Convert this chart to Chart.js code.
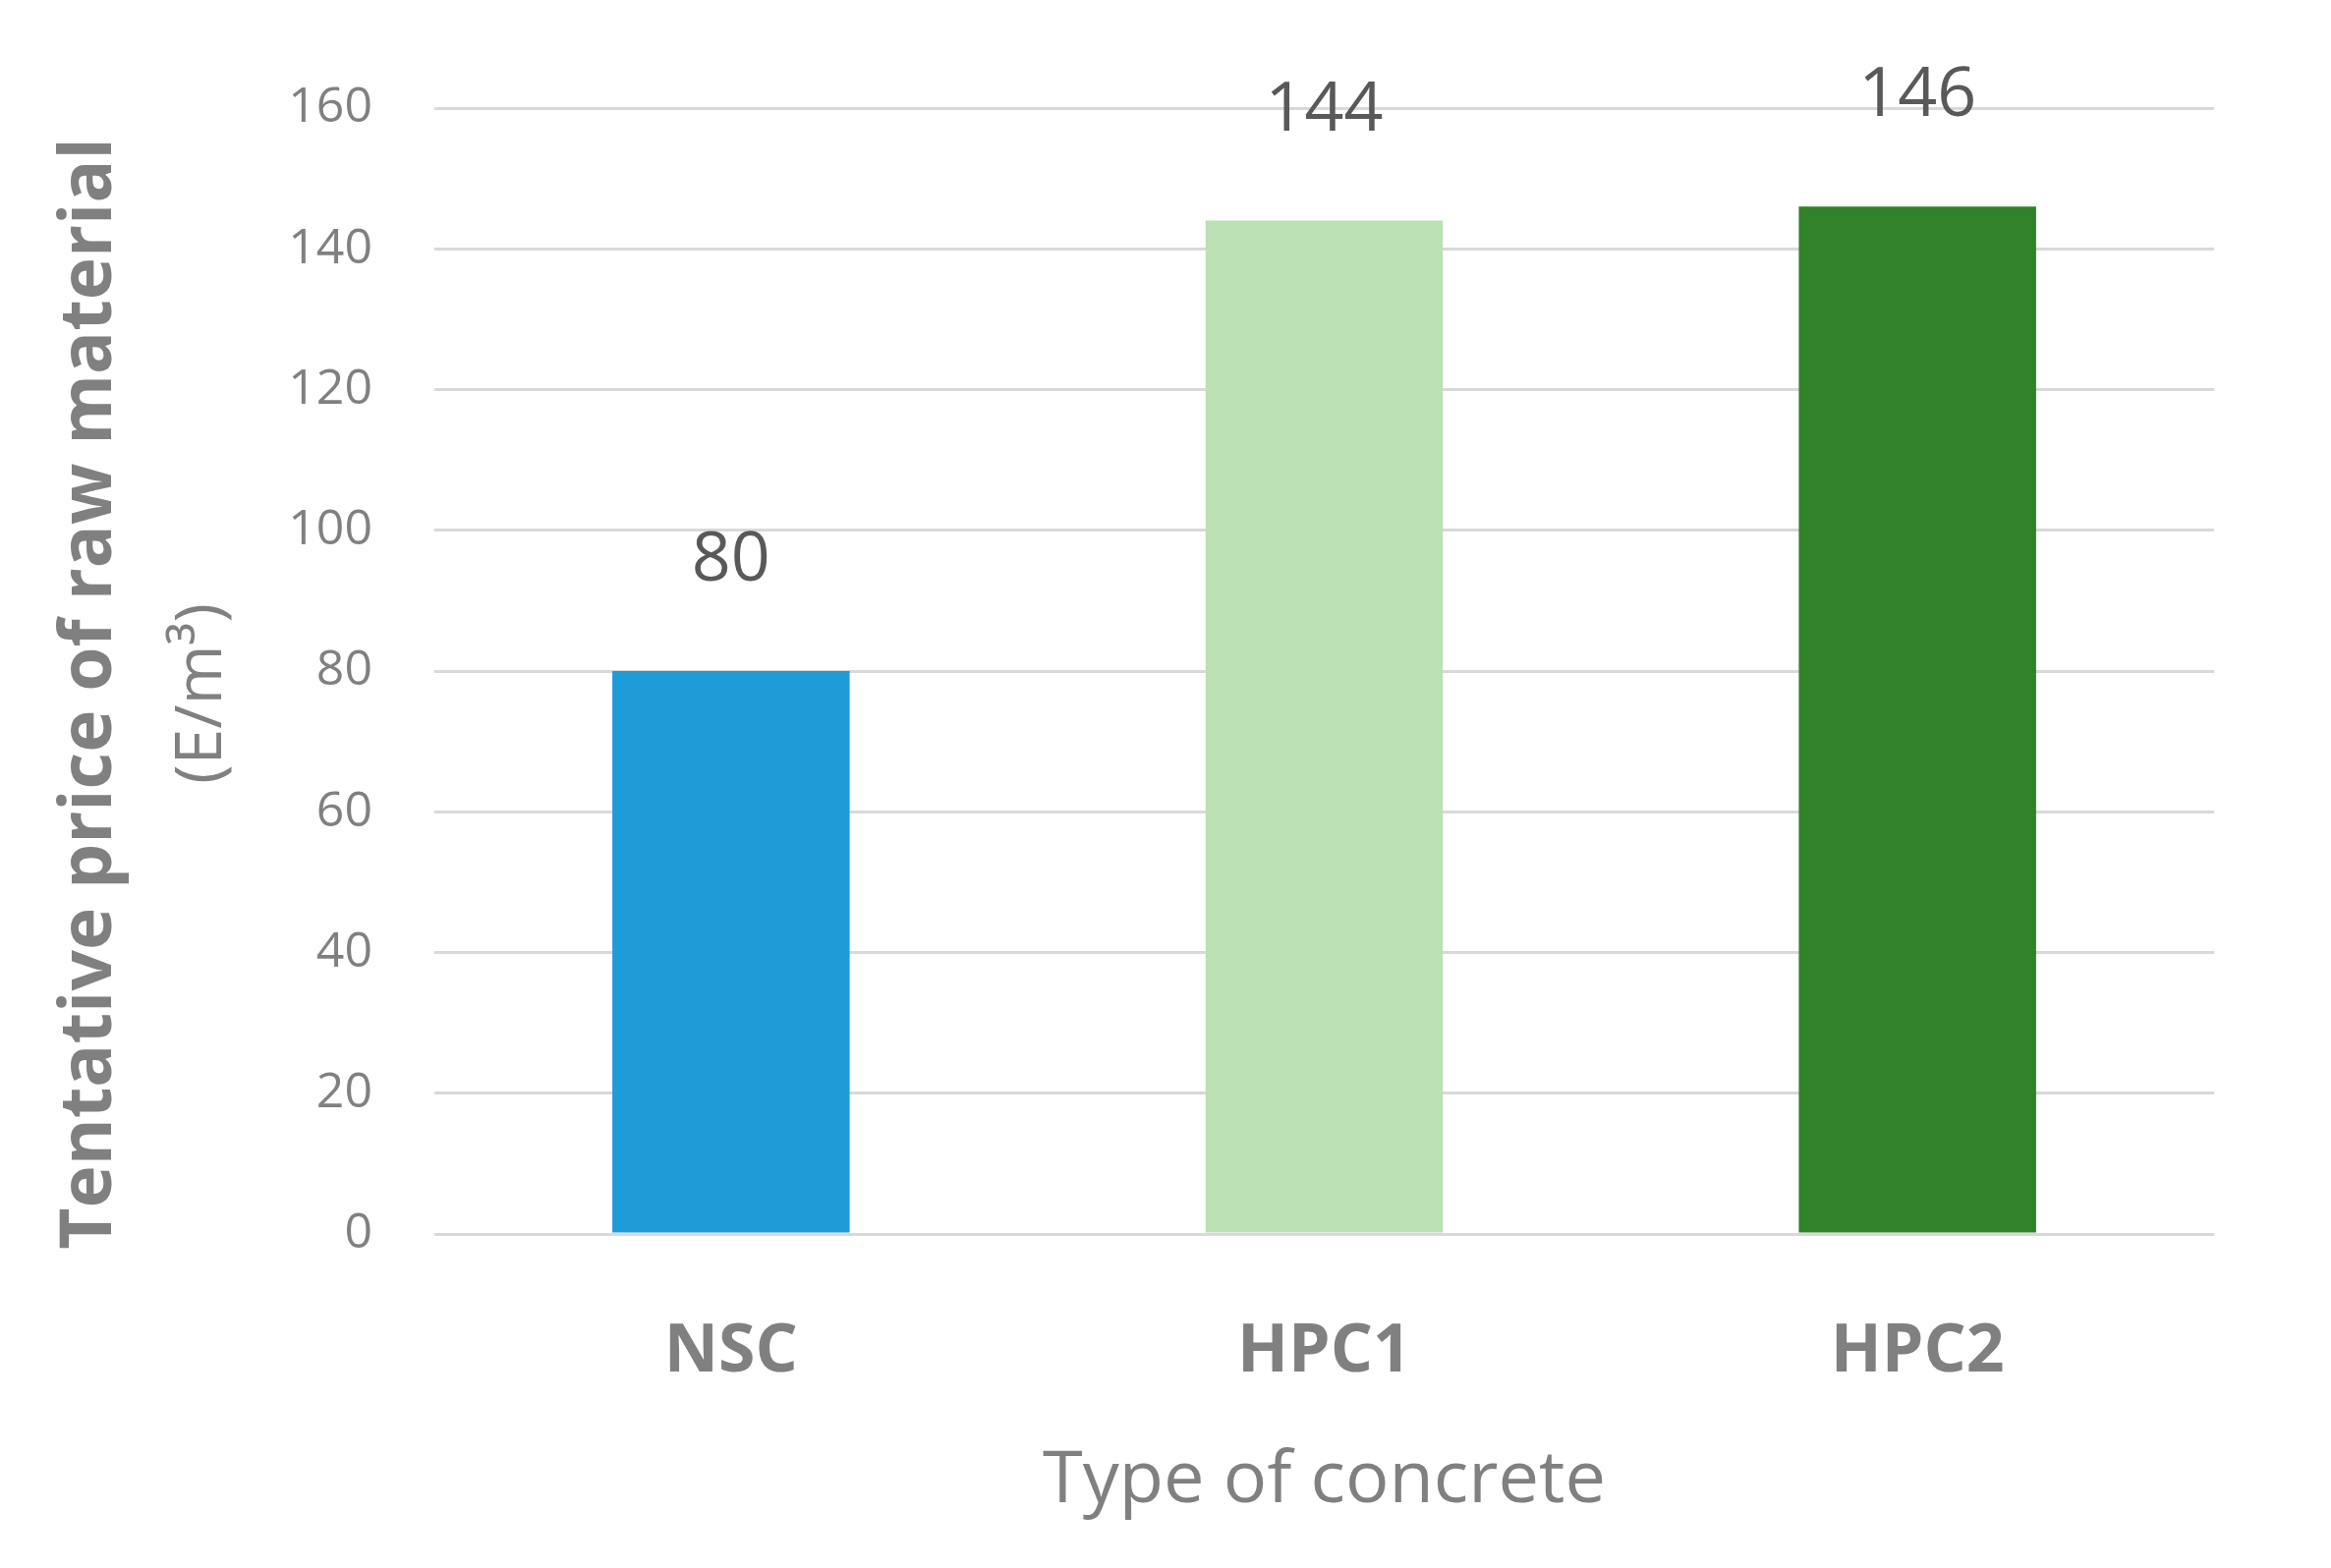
<!DOCTYPE html>
<html>
<head>
<meta charset="utf-8">
<script src="https://cdn.jsdelivr.net/npm/chart.js@4"></script>
<style>
  html, body { margin: 0; padding: 0; background: #fff; }
  #wrap { width: 2372px; height: 1596px; }
</style>
</head>
<body>
<div id="wrap"><canvas id="priceChart"></canvas></div>
<script>
const categories = ["NSC", "HPC1", "HPC2"];
const prices = [80, 144, 146];
const barColors = ["#1E9CD7", "#BBE1B4", "#31822A"];
const yTitle = "Tentative price of raw material";
const yUnit = "(E/m³)";
const xTitle = "Type of concrete";

const FONT = "'Open Sans', 'Noto Sans', sans-serif";

// value labels + axis titles drawn by hand
const extras = {
  id: "extras",
  afterDatasetsDraw(chart) {
    const ctx = chart.ctx;
    const meta = chart.getDatasetMeta(0);
    ctx.save();
    ctx.fillStyle = "#595959";
    ctx.font = "70px " + FONT;
    ctx.textAlign = "center";
    ctx.textBaseline = "middle";
    meta.data.forEach((bar, i) => {
      ctx.fillText(String(prices[i]), bar.x, bar.y - 112);
    });

    ctx.fillStyle = "#808080";
    ctx.font = "74px " + FONT;
    ctx.fillText(xTitle, (chart.chartArea.left + chart.chartArea.right) / 2, 1508);

    const cy = 706;
    ctx.translate(92, cy);
    ctx.rotate(-Math.PI / 2);
    ctx.font = "bold 73px " + FONT;
    ctx.fillText(yTitle, 0, 0);
    ctx.font = "66px " + FONT;
    ctx.fillText(yUnit, 0, 114);
    ctx.restore();
  }
};

new Chart(document.getElementById("priceChart"), {
  type: "bar",
  data: {
    labels: categories,
    datasets: [{
      data: prices,
      backgroundColor: barColors,
      borderWidth: 0,
      categoryPercentage: 1,
      barPercentage: 0.4,
    }],
  },
  options: {
    responsive: true,
    maintainAspectRatio: false,
    animation: false,
    layout: { padding: { top: 110, right: 119, left: 0, bottom: 0 } },
    plugins: { legend: { display: false }, tooltip: { enabled: false } },
    scales: {
      x: {
        grid: { display: false },
        border: { display: false },
        ticks: { color: "#808080", font: { family: FONT, size: 68, weight: "bold" }, padding: 72 },
        afterFit: (s) => { s.height = 340; },
      },
      y: {
        min: 0, max: 160,
        ticks: { stepSize: 20, color: "#808080", font: { family: FONT, size: 50 }, padding: 63 },
        grid: { color: "#D9D9D9", lineWidth: 3, drawTicks: false },
        border: { display: false },
        afterFit: (s) => { s.width = 442; },
      },
    },
  },
  plugins: [extras],
});
</script>
</body>
</html>
